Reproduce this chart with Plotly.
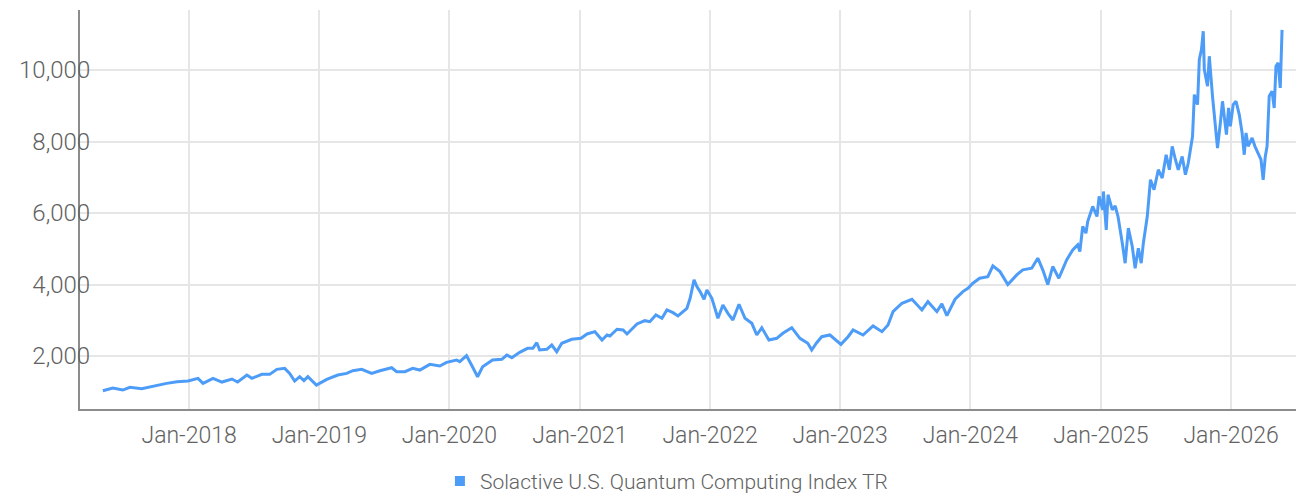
import plotly.graph_objects as go

series_name = "Solactive U.S. Quantum Computing Index TR"

dates = [
    "2017-05-04", "2017-06-01", "2017-06-29", "2017-07-19", "2017-08-21", "2017-10-02", "2017-10-30", "2017-11-28",
    "2017-12-29", "2018-01-26", "2018-02-09", "2018-03-09", "2018-04-03", "2018-05-01", "2018-05-17", "2018-06-12",
    "2018-06-26", "2018-07-24", "2018-08-15", "2018-09-04", "2018-09-26", "2018-10-10", "2018-10-24", "2018-11-07",
    "2018-11-19", "2018-11-30", "2018-12-24",
    "2019-01-22", "2019-02-22", "2019-03-19", "2019-04-05", "2019-04-30", "2019-05-28", "2019-06-20", "2019-07-23",
    "2019-08-06", "2019-08-29", "2019-09-20", "2019-10-10", "2019-11-07", "2019-12-05", "2019-12-24",
    "2020-01-21", "2020-01-30", "2020-02-18", "2020-03-03", "2020-03-20", "2020-04-03", "2020-05-01", "2020-05-27",
    "2020-06-10", "2020-06-24", "2020-07-16", "2020-08-07", "2020-08-22", "2020-09-02", "2020-09-10", "2020-09-30",
    "2020-10-14", "2020-10-28", "2020-11-11", "2020-12-09",
    "2021-01-04", "2021-01-21", "2021-02-12", "2021-03-04", "2021-03-18", "2021-03-26", "2021-04-15", "2021-05-02",
    "2021-05-13", "2021-06-10", "2021-07-02", "2021-07-16", "2021-08-02", "2021-08-19", "2021-09-02", "2021-09-19",
    "2021-10-03", "2021-10-28", "2021-11-06", "2021-11-17", "2021-11-25", "2021-12-04", "2021-12-15", "2021-12-23",
    "2022-01-06", "2022-01-23", "2022-02-06", "2022-02-20", "2022-03-06", "2022-03-23", "2022-04-09", "2022-04-28",
    "2022-05-12", "2022-05-26", "2022-06-15", "2022-07-07", "2022-07-24", "2022-08-18", "2022-09-10", "2022-10-02",
    "2022-10-13", "2022-10-27", "2022-11-10", "2022-12-03",
    "2023-01-03", "2023-01-23", "2023-02-06", "2023-03-06", "2023-04-03", "2023-04-28", "2023-05-15", "2023-05-29",
    "2023-06-23", "2023-07-21", "2023-08-18", "2023-09-04", "2023-09-29", "2023-10-13", "2023-10-27", "2023-11-19",
    "2023-12-11", "2023-12-25",
    "2024-01-08", "2024-01-27", "2024-02-19", "2024-03-04", "2024-03-24", "2024-04-15", "2024-05-10", "2024-05-27",
    "2024-06-21", "2024-07-08", "2024-07-22", "2024-08-05", "2024-08-19", "2024-09-05", "2024-09-27", "2024-10-14",
    "2024-10-28", "2024-11-03", "2024-11-11", "2024-11-20", "2024-11-25", "2024-12-09", "2024-12-21", "2024-12-27",
    "2025-01-06", "2025-01-08", "2025-01-16", "2025-01-21", "2025-02-02", "2025-02-10", "2025-02-18", "2025-03-02",
    "2025-03-10", "2025-03-19", "2025-03-30", "2025-04-07", "2025-04-16", "2025-04-24", "2025-04-30", "2025-05-11",
    "2025-05-20", "2025-05-30", "2025-06-11", "2025-06-22", "2025-07-03", "2025-07-12", "2025-07-20", "2025-07-29",
    "2025-08-06", "2025-08-17", "2025-08-26", "2025-09-03", "2025-09-15", "2025-09-20", "2025-09-29", "2025-10-04",
    "2025-10-10", "2025-10-15", "2025-10-18", "2025-10-27", "2025-11-01", "2025-11-10", "2025-11-18", "2025-11-24",
    "2025-12-02", "2025-12-08", "2025-12-14", "2025-12-19", "2025-12-25", "2025-12-30",
    "2026-01-07", "2026-01-15", "2026-01-24", "2026-02-01", "2026-02-07", "2026-02-12", "2026-02-18", "2026-03-01",
    "2026-03-09", "2026-03-18", "2026-03-26", "2026-04-01", "2026-04-07", "2026-04-12", "2026-04-18", "2026-04-26",
    "2026-05-02", "2026-05-07", "2026-05-13", "2026-05-19", "2026-05-24",
]

values = [
    1028, 1104, 1048, 1123, 1085, 1188, 1235, 1281,
    1300, 1375, 1235, 1375, 1272, 1356, 1272, 1468,
    1375, 1487, 1487, 1627, 1655, 1515, 1300, 1421,
    1310, 1421, 1188,
    1347, 1468, 1515, 1588, 1627, 1515, 1588, 1672,
    1560, 1560, 1655, 1608, 1767, 1720, 1823,
    1888, 1841, 2009, 1748, 1420, 1700, 1888, 1907,
    2028, 1953, 2103, 2215, 2215, 2373, 2168, 2187,
    2308, 2121, 2355, 2467,
    2495, 2616, 2681, 2448, 2588, 2560, 2748, 2728,
    2616, 2896, 2989, 2961, 3148, 3055, 3288, 3213,
    3120, 3335, 3615, 4129, 3941, 3801, 3588, 3848,
    3615, 3055, 3428, 3195, 3008, 3448, 3055, 2915,
    2588, 2790, 2448, 2495, 2636, 2793, 2495, 2355,
    2168, 2373, 2541, 2588,
    2327, 2541, 2728, 2588, 2840, 2681, 2868, 3241,
    3476, 3588, 3288, 3521, 3241, 3457, 3129, 3588,
    3801, 3895,
    4036, 4176, 4221, 4521, 4361, 4000, 4268, 4409,
    4456, 4736, 4409, 4000, 4502, 4176, 4689, 4969,
    5109, 4922, 5622, 5436, 5762, 6183, 5902, 6463,
    6089, 6603, 5529, 6510, 6089, 6201, 5902, 5156,
    4596, 5576, 5062, 4456, 5016, 4596, 5156, 5902,
    6930, 6650, 7210, 6977, 7630, 7210, 7864, 7490,
    7210, 7583, 7070, 7397, 8144, 9312, 9032, 10292,
    10572, 11084, 10012, 9545, 10385, 9265, 8332, 7818,
    8518, 9125, 8612, 8192, 8938, 8425,
    9032, 9125, 8752, 8238, 7630, 8238, 7864, 8098,
    7864, 7677, 7490, 6930, 7583, 7864, 9265, 9405,
    8938, 10105, 10198, 9498, 11121,
]

y_ticks = [2000, 4000, 6000, 8000, 10000]
y_tick_labels = ["2,000", "4,000", "6,000", "8,000", "10,000"]

LINE_COLOR = "#4d9cf8"
FONT = "Roboto, sans-serif"
TEXT_COLOR = "#626262"

fig = go.Figure()
fig.add_trace(go.Scatter(
    x=dates, y=values, mode="lines", name=series_name,
    line=dict(color=LINE_COLOR, width=3), showlegend=False,
))
fig.add_trace(go.Scatter(
    x=[None], y=[None], mode="markers", name=series_name,
    marker=dict(symbol="square", color=LINE_COLOR, size=10), showlegend=True,
))

fig.update_layout(
    width=1304, height=496,
    margin=dict(l=72, r=0, t=2, b=95),
    paper_bgcolor="white", plot_bgcolor="white",
    font=dict(family=FONT, color=TEXT_COLOR, size=23, weight=300),
    legend=dict(orientation="h", x=0.476, xanchor="center", y=-0.13, yanchor="top",
                font=dict(family=FONT, size=21, color=TEXT_COLOR, weight=300), itemwidth=30),
)
fig.update_xaxes(
    type="date", range=["2017-03-01", "2026-08-16"],
    tick0="2018-01-01", dtick="M12", tickformat="%b-%Y",
    showgrid=True, gridcolor="#e6e6e6", gridwidth=2,
    showline=True, linecolor="#8c8c8c", linewidth=2,
    ticks="outside", ticklen=4, tickcolor="rgba(0,0,0,0)",
    zeroline=False, automargin=False,
)
fig.update_yaxes(
    range=[518, 11678], tickvals=y_ticks, ticktext=y_tick_labels,
    showgrid=True, gridcolor="#e6e6e6", gridwidth=2,
    showline=True, linecolor="#8c8c8c", linewidth=2,
    ticks="outside", ticklen=3, tickcolor="rgba(0,0,0,0)",
    ticklabelstandoff=-20, tickfont=dict(size=24),
    zeroline=False, automargin=False,
)

fig.write_html("out.html")
